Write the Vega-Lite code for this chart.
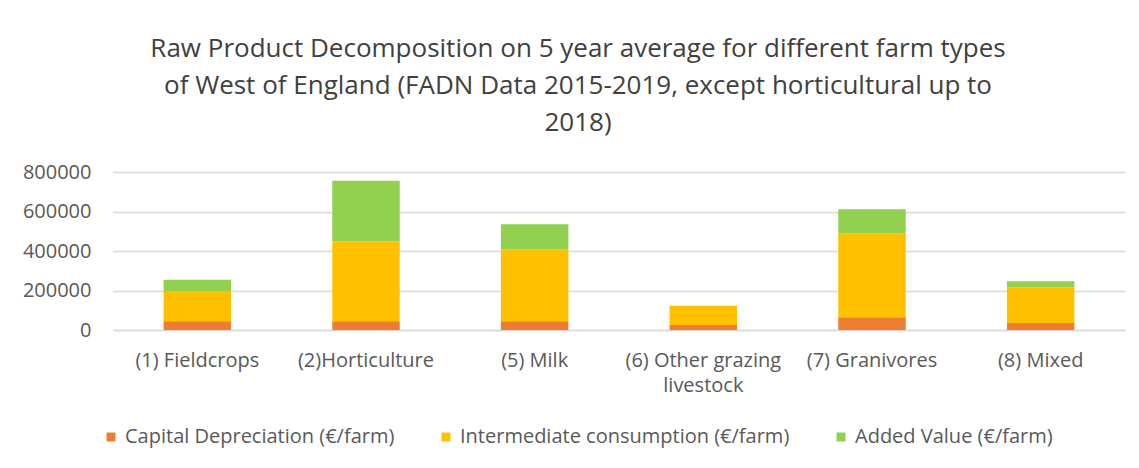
{
  "$schema": "https://vega.github.io/schema/vega-lite/v6.json",
  "autosize": "none",
  "width": 1012,
  "height": 158,
  "padding": {"left": 113, "top": 172, "right": 14, "bottom": 138},
  "background": "white",
  "title": {
    "text": ["Raw Product  Decomposition on 5 year average for different farm types", "of West of England (FADN Data 2015-2019, except horticultural up to", "2018)"],
    "fontSize": 26,
    "font": "Open Sans",
    "fontWeight": "normal",
    "color": "#404040",
    "lineHeight": 37,
    "anchor": "middle",
    "dx": -41,
    "offset": 26
  },
  "data": {
    "values": [
      {"farm": "(1) Fieldcrops", "component": "Capital Depreciation (€/farm)", "stackOrder": 1, "value": 44000},
      {"farm": "(1) Fieldcrops", "component": "Intermediate consumption (€/farm)", "stackOrder": 2, "value": 153500},
      {"farm": "(1) Fieldcrops", "component": "Added Value  (€/farm)", "stackOrder": 3, "value": 57000},
      {"farm": "(2)Horticulture", "component": "Capital Depreciation (€/farm)", "stackOrder": 1, "value": 44000},
      {"farm": "(2)Horticulture", "component": "Intermediate consumption (€/farm)", "stackOrder": 2, "value": 405000},
      {"farm": "(2)Horticulture", "component": "Added Value  (€/farm)", "stackOrder": 3, "value": 307000},
      {"farm": "(5) Milk", "component": "Capital Depreciation (€/farm)", "stackOrder": 1, "value": 44000},
      {"farm": "(5) Milk", "component": "Intermediate consumption (€/farm)", "stackOrder": 2, "value": 364500},
      {"farm": "(5) Milk", "component": "Added Value  (€/farm)", "stackOrder": 3, "value": 126500},
      {"farm": "(6) Other grazing livestock", "component": "Capital Depreciation (€/farm)", "stackOrder": 1, "value": 25000},
      {"farm": "(6) Other grazing livestock", "component": "Intermediate consumption (€/farm)", "stackOrder": 2, "value": 96500},
      {"farm": "(6) Other grazing livestock", "component": "Added Value  (€/farm)", "stackOrder": 3, "value": 1000},
      {"farm": "(7) Granivores", "component": "Capital Depreciation (€/farm)", "stackOrder": 1, "value": 64000},
      {"farm": "(7) Granivores", "component": "Intermediate consumption (€/farm)", "stackOrder": 2, "value": 424000},
      {"farm": "(7) Granivores", "component": "Added Value  (€/farm)", "stackOrder": 3, "value": 123000},
      {"farm": "(8) Mixed", "component": "Capital Depreciation (€/farm)", "stackOrder": 1, "value": 35500},
      {"farm": "(8) Mixed", "component": "Intermediate consumption (€/farm)", "stackOrder": 2, "value": 180500},
      {"farm": "(8) Mixed", "component": "Added Value  (€/farm)", "stackOrder": 3, "value": 30500}
    ]
  },
  "mark": {"type": "bar"},
  "encoding": {
    "x": {
      "field": "farm",
      "type": "nominal",
      "sort": null,
      "scale": {"paddingInner": 0.6, "paddingOuter": 0.3},
      "axis": {
        "title": null,
        "labelAngle": 0,
        "labelFont": "Open Sans",
        "labelFontSize": 20,
        "labelColor": "#595959",
        "labelPadding": 30,
        "labelLineHeight": 25,
        "labelBaseline": "middle",
        "labelLimit": 300,
        "ticks": false,
        "domainColor": "#d9d9d9",
        "domainWidth": 1.5,
        "labelExpr": "datum.value == '(6) Other grazing livestock' ? ['(6) Other grazing', 'livestock'] : datum.value"
      }
    },
    "y": {
      "field": "value",
      "type": "quantitative",
      "stack": "zero",
      "scale": {"domain": [0, 800000]},
      "axis": {
        "title": null,
        "values": [0, 200000, 400000, 600000, 800000],
        "format": "d",
        "labelFont": "Open Sans",
        "labelFontSize": 20,
        "labelColor": "#595959",
        "labelPadding": 22,
        "domain": false,
        "ticks": false,
        "gridColor": "#d9d9d9",
        "gridWidth": 1.5
      }
    },
    "order": {"field": "stackOrder", "type": "quantitative", "sort": "ascending"},
    "color": {
      "field": "component",
      "type": "nominal",
      "scale": {
        "domain": ["Capital Depreciation (€/farm)", "Intermediate consumption (€/farm)", "Added Value  (€/farm)"],
        "range": ["#ED7D31", "#FFC000", "#92D050"]
      },
      "legend": {
        "title": null,
        "orient": "none",
        "direction": "horizontal",
        "legendX": -12,
        "legendY": 255,
        "symbolType": "square",
        "symbolSize": 80,
        "symbolOffset": 0,
        "labelOffset": 4,
        "labelFont": "Open Sans",
        "labelFontSize": 20,
        "labelColor": "#595959",
        "labelLimit": 500,
        "columnPadding": 41
      }
    }
  },
  "config": {"view": {"stroke": null}}
}
